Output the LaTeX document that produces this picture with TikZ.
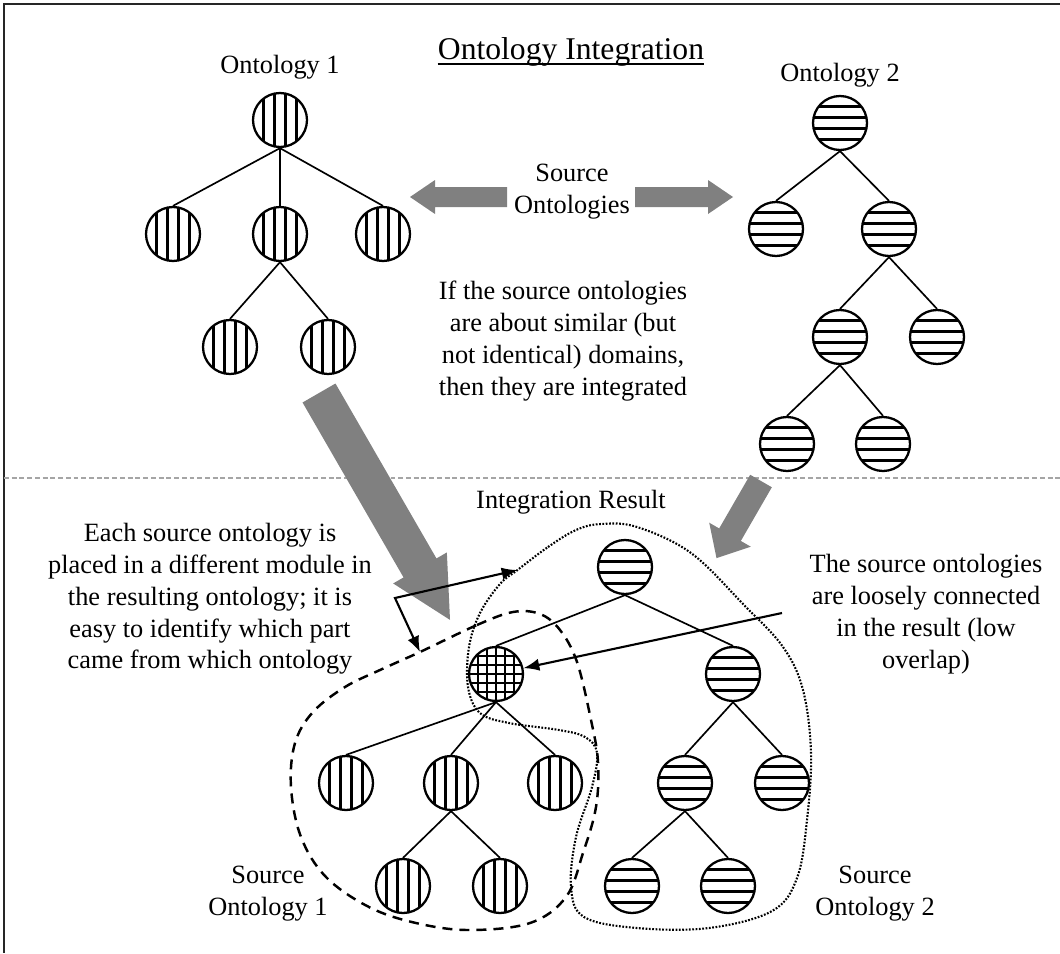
\documentclass[tikz,border=0pt]{standalone}
\usepackage{fontspec}
\setmainfont{Liberation Serif}
\usepackage{tikz}
\usetikzlibrary{calc}
\usetikzlibrary{arrows.meta}
\definecolor{arrowgray}{RGB}{128,128,128}
\definecolor{sepgray}{RGB}{165,165,165}
\tikzset{
    onode/.style={circle,draw,line width=1.3pt,minimum size=1.08cm,inner sep=0pt},
    vnode/.style={onode,path picture={
        \foreach \off in {-16.5,-5.5,5.5,16.5}
            \draw[line width=1.2pt] ([xshift=\off*0.2mm]path picture bounding box.north) -- ([xshift=\off*0.2mm]path picture bounding box.south);}},
    hnode/.style={onode,path picture={
        \foreach \off in {-16.5,-5.5,5.5,16.5}
            \draw[line width=1.2pt] ([yshift=\off*0.2mm]path picture bounding box.west) -- ([yshift=\off*0.2mm]path picture bounding box.east);}},
    gnode/.style={onode,path picture={
        \foreach \off in {-18,-9,0,9,18}{
            \draw[line width=1.1pt] ([xshift=\off*0.2mm]path picture bounding box.north) -- ([xshift=\off*0.2mm]path picture bounding box.south);
            \draw[line width=1.1pt] ([yshift=\off*0.2mm]path picture bounding box.west) -- ([yshift=\off*0.2mm]path picture bounding box.east);}}},
    edge/.style={line width=0.95pt},
    txt/.style={inner sep=0pt,align=center,font=\fontsize{15}{18.1}\selectfont},
    pointer/.style={line width=1.2pt,-{Latex[length=9pt,width=7pt]}},
    module1/.style={line width=1.4pt,dash pattern=on 5.7pt off 4pt},
    module2/.style={line width=1.2pt,dash pattern=on 1pt off 0.9pt}
}
\newcommand{\grayarrow}[6]{%
    \fill[arrowgray,shift={(#1)},rotate=#2] (0,-#4) -- ({#3-#6},-#4) -- ({#3-#6},-#5) -- (#3,0) -- ({#3-#6},#5) -- ({#3-#6},#4) -- (0,#4) -- cycle;}
\begin{document}
\begin{tikzpicture}[x=0.02cm,y=-0.02cm]
\useasboundingbox (0,0) rectangle (1060,953);
\draw[line width=1.2pt,black!85] (1060,4) -- (4,4) -- (4,953);
\draw[sepgray,line width=0.8pt,dash pattern=on 2.8pt off 1.6pt] (4,478) -- (1060,478);

\node[txt,font=\fontsize{18}{22}\selectfont,anchor=base] (title) at (571,60) {Ontology Integration};
\draw[line width=0.9pt] ($(title.base west)+(0,4)$) -- ($(title.base east)+(0,4)$);
\node[txt,anchor=base] (lab1) at (280,73) {Ontology 1};
\node[txt,anchor=base] (lab2) at (840,82) {Ontology 2};

\foreach \p/\x/\y in {oa/280/120, oa1/173/234, oa2/280/234, oa3/383/234, oa21/230/347, oa22/328/347,
    rx1/346/783, rx2/451/783, rx3/555/783, rx21/403/886, rx22/500/886}
    \node[vnode] (\p) at (\x,\y) {};
\foreach \p/\x/\y in {ob/840/123, ob1/776/229, ob2/889/229, ob21/840/337, ob22/937/337, ob211/787/444, ob212/883/444,
    ra/625/567, rb/733/674, rb1/685/783, rb2/782/783, rb11/632/886, rb12/728/886}
    \node[hnode] (\p) at (\x,\y) {};
\node[gnode] (rx) at (496,674) {};

\foreach \a/\b in {oa/oa1, oa/oa2, oa/oa3, oa2/oa21, oa2/oa22,
    ob/ob1, ob/ob2, ob2/ob21, ob2/ob22, ob21/ob211, ob21/ob212,
    ra/rx, ra/rb, rx/rx1, rx/rx2, rx/rx3, rx2/rx21, rx2/rx22, rb/rb1, rb/rb2, rb1/rb11, rb1/rb12}
    \draw[edge] (\a.south) -- (\b.north);

\grayarrow{507,197}{180}{97}{10}{17}{25}
\grayarrow{635,197}{0}{98}{10}{17}{25}
\grayarrow{319,393}{-60}{262}{19}{31}{60}
\grayarrow{761,481}{-120}{89}{12.5}{24}{27}

\node[txt] (src) at (572,192) {Source\\Ontologies};
\node[txt] (note1) at (563,341) {If the source ontologies\\are about similar (but\\not identical) domains,\\then they are integrated};
\node[txt] (res) at (571,502) {Integration Result};
\node[txt] (note2) at (210,599) {Each source ontology is\\placed in a different module in\\the resulting ontology; it is\\easy to identify which part\\came from which ontology};
\node[txt] (note3) at (926,614) {The source ontologies\\are loosely connected\\in the result (low\\overlap)};
\node[txt] (src1) at (268,894) {Source\\Ontology 1};
\node[txt] (src2) at (875,894) {Source\\Ontology 2};

\draw[module1] plot[smooth cycle,tension=0.6] coordinates {(420,652) (477,625) (513,612) (540,614) (560,630) (577,662) (591,720) (598,762) (596,807) (583,853) (566,897) (530,923) (469,930) (416,923) (369,907) (326,877) (301,837) (291,787) (295,743) (313,712) (345,687) (380,670)};
\draw[module2] plot[smooth cycle,tension=0.6] coordinates {(517.5,570) (548,547) (576,530) (601,524) (637,527) (691,553) (744,605) (783,647) (803,690) (811,753) (807,820) (797,878) (772,911) (709,928) (637,928) (584,917) (571,887) (576,837) (592,787) (597,753) (585,737) (559,730) (509,723) (480,713) (468,687) (469,647) (480,613) (500,584)};

\coordinate (hit1) at (517.5,570);
\coordinate (hit2) at (420,652);
\coordinate (bend) at (395,598);
\draw[line width=1.2pt,{Latex[length=9pt,width=7pt]}-{Latex[length=9pt,width=7pt]}] (hit1) -- (bend) -- (hit2);
\coordinate (from) at (782,613);
\draw[pointer] (from) -- (rx);
\end{tikzpicture}
\end{document}
